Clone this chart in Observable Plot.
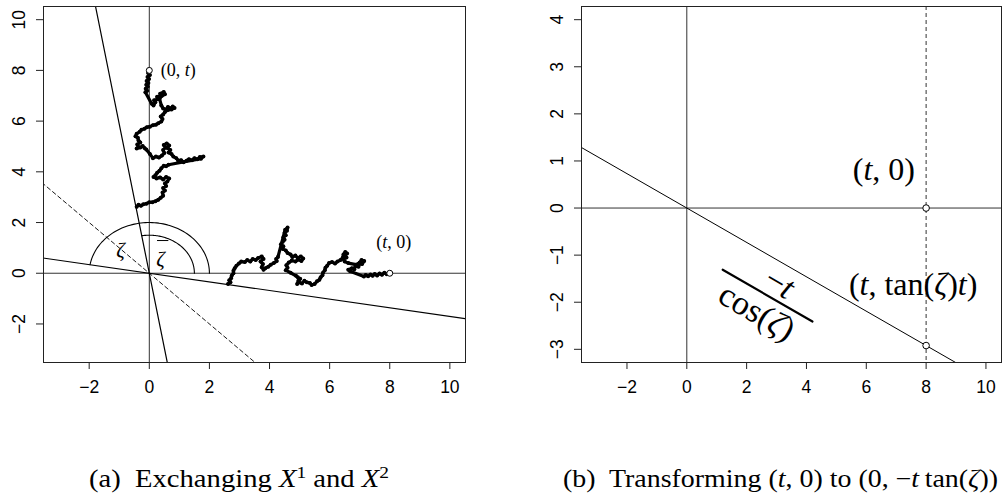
<!DOCTYPE html>
<html><head><meta charset="utf-8">
<script src="https://cdn.jsdelivr.net/npm/d3@7"></script>
<script src="https://cdn.jsdelivr.net/npm/@observablehq/plot@0.6"></script>
<style>
html,body{margin:0;padding:0;background:#fff;}
#wrap{position:relative;width:1003px;height:497px;overflow:hidden;background:#fff;}
.panel{position:absolute;top:0;}
.cap{position:absolute;font-family:"Liberation Serif","Times New Roman",serif;font-size:25px;line-height:25px;white-space:nowrap;transform-origin:0 0;color:#000;}
.cap sup{font-size:0.68em;line-height:0;vertical-align:0.55em;}
</style></head><body><div id="wrap"></div>
<script>
// ---------- data ----------
const xTicks = [-2, 0, 2, 4, 6, 8, 10];
const yTicksA = [-2, 0, 2, 4, 6, 8, 10];
const yTicksB = [-3, -2, -1, 0, 1, 2, 3, 4];
const xDomain = [-3.52, 10.52];
const yDomainA = [-3.52, 10.52];
const yDomainB = [-3.28, 4.28];
const tEnd = 8;                 // end time t
const slopeA = -0.17;           // rotated axis in panel (a)
const tanZeta = -0.365;         // tan(zeta) in panel (b)
const arcRadii = [2, 1.5];      // outer (zeta) and inner (zeta-bar) arcs

// Brownian path ending at (0, t); its mirror (coordinates exchanged) ends at (t, 0)
const pathA = [
  [0.00,8.00],[-0.04,7.90],[0.02,7.82],[-0.06,7.74],[-0.01,7.66],[-0.09,7.58],[-0.03,7.50],[-0.10,7.43],
  [-0.05,7.36],[-0.12,7.28],[-0.07,7.20],[-0.13,7.14],
  [0.08,6.68],[0.14,6.62],[0.20,6.74],[0.16,6.82],[0.28,6.86],[0.26,6.96],[0.38,6.98],[0.36,7.08],
  [0.48,7.15],[0.52,7.06],[0.42,7.00],[0.34,6.88],
  [0.40,6.62],[0.46,6.50],[0.56,6.46],[0.62,6.56],[0.70,6.50],[0.78,6.58],[0.84,6.52],[0.74,6.46],
  [0.62,6.44],[0.52,6.36],[0.46,6.26],[0.38,6.18],[0.44,6.08],[0.40,5.98],[0.30,5.92],[0.22,5.86],
  [0.12,5.84],[0.02,5.78],[-0.08,5.76],[-0.16,5.70],[-0.26,5.66],[-0.32,5.58],[-0.42,5.50],[-0.46,5.40],
  [-0.38,5.34],[-0.36,5.24],[-0.30,5.16],[-0.40,5.08],[-0.36,4.98],[-0.42,4.92],[-0.30,4.96],[-0.22,5.02],
  [-0.16,4.94],[-0.10,4.88],[0.02,4.70],[0.12,4.54],
  [0.22,4.60],[0.32,4.56],[0.42,4.64],[0.50,4.74],[0.46,4.86],[0.54,4.96],[0.48,5.06],[0.58,5.12],
  [0.66,5.04],[0.60,4.94],[0.70,4.86],[0.64,4.76],[0.74,4.70],[0.80,4.60],[0.90,4.54],[0.96,4.44],
  [1.06,4.46],[1.14,4.38],[1.24,4.44],[1.32,4.50],[1.42,4.46],[1.50,4.54],[1.60,4.50],[1.68,4.58],
  [1.80,4.60],[1.72,4.52],
  [0.64,4.28],[0.56,4.22],[0.48,4.24],[0.40,4.14],[0.34,4.04],[0.26,3.96],[0.20,3.86],[0.14,3.80],
  [0.24,3.74],[0.36,3.78],[0.46,3.70],[0.56,3.80],[0.66,3.74],[0.60,3.62],[0.52,3.54],[0.56,3.44],
  [0.46,3.36],[0.52,3.26],[0.44,3.18],[0.46,3.06],[0.38,2.98],[0.30,2.90],[0.20,2.84],[0.10,2.80],
  [0.00,2.80],[-0.10,2.74],[-0.20,2.72],[-0.28,2.66],[-0.36,2.70],[-0.42,2.62]
];

// text annotations (data coordinates); *...* = italic
const labelsA = [
  {x: 0.38, y: 7.78, text: "(0, *t*)"},
  {x: 7.55, y: 0.98, text: "(*t*, 0)"}
];
const zetaLabels = [
  {x: -0.955, y: 0.90, text: "*ζ*"},
  {x: 0.376, y: 0.57, text: "*ζ*"}
];
const zetaBar = [[0.27, 1.29], [0.62, 1.29]];
const labelsB = [
  {x: 5.55, y: 0.60, text: "(*t*, 0)"},
  {x: 5.42, y: -1.845, text: "(*t*, tan(*ζ*)*t*)"}
];
const fracBar = [[1.2, -1.31], [4.2, -2.41]];
const fracText = [
  {x: 3.10, y: -1.60, text: "−*t*"},
  {x: 2.34, y: -2.21, text: "cos(*ζ*)"}
];
const captions = [
  {left: 89, width: 300, html: "(a)&nbsp; Exchanging <i>X</i><sup>1</sup> and <i>X</i><sup>2</sup>"},
  {left: 563, width: 435, html: "(b)&nbsp; Transforming (<i>t</i>, 0) to (0, −<i>t</i>&#8201;tan(<i>ζ</i>))"}
];

// ---------- helpers ----------
const fmt = d3.format("d");
const serif = "Liberation Serif, Times New Roman, serif";
const sans = "Liberation Sans, Arial, Helvetica, sans-serif";
function italicize(svg) {
  svg.querySelectorAll("text").forEach(el => {
    const s = el.textContent;
    if (!s.includes("*")) return;
    el.textContent = "";
    s.split("*").forEach((part, i) => {
      if (!part) return;
      const ts = document.createElementNS("http://www.w3.org/2000/svg", "tspan");
      ts.textContent = part;
      if (i % 2 === 1) ts.setAttribute("font-style", "italic");
      el.appendChild(ts);
    });
  });
}
function arcPoints(r, a1) {
  return d3.range(0, 81).map(i => { const a = a1 * i / 80; return [r * Math.cos(a), r * Math.sin(a)]; });
}
const outerEnd = Math.PI + Math.atan(slopeA);
const innerEnd = Math.atan2(1, slopeA);
const shallowLine = [[-5, -5 * slopeA], [12, 12 * slopeA]];
const steepLine = [[slopeA * 12, 12], [slopeA * -5, -5]];
const diagLine = [[-5, 5], [12, -12]];
const lineB = [[-5, -5 * tanZeta], [12, 12 * tanZeta]];

const commonStyle = {fontFamily: sans, fontSize: "17.5px", background: "transparent", color: "black"};
const pathStyle = {stroke: "black", strokeWidth: 3.2, strokeLinejoin: "round", strokeLinecap: "round"};
const axisOpts = {tickSize: 7, tickFormat: fmt, stroke: "#222", label: null, fontFamily: sans, fontSize: 17.5};

// ---------- panel (a) ----------
const left = Plot.plot({
  width: 500, height: 400,
  marginLeft: 43, marginRight: 35, marginTop: 6, marginBottom: 38,
  x: {domain: xDomain, label: null}, y: {domain: yDomainA, label: null},
  style: commonStyle,
  marks: [
    Plot.ruleX([0], {stroke: "#333", strokeWidth: 1}),
    Plot.ruleY([0], {stroke: "#333", strokeWidth: 1}),
    Plot.line(shallowLine, {x: d => d[0], y: d => d[1], stroke: "black", strokeWidth: 1.2, clip: true}),
    Plot.line(steepLine, {x: d => d[0], y: d => d[1], stroke: "black", strokeWidth: 1.2, clip: true}),
    Plot.line(diagLine, {x: d => d[0], y: d => d[1], stroke: "black", strokeWidth: 0.9, strokeDasharray: "4,3", clip: true}),
    Plot.line(arcPoints(arcRadii[0], outerEnd), {x: d => d[0], y: d => d[1], stroke: "black", strokeWidth: 1.1}),
    Plot.line(arcPoints(arcRadii[1], innerEnd), {x: d => d[0], y: d => d[1], stroke: "black", strokeWidth: 1.1}),
    Plot.line(pathA, {x: d => d[0], y: d => d[1], ...pathStyle}),
    Plot.line(pathA, {x: d => d[1], y: d => d[0], ...pathStyle}),
    Plot.dot(pathA, {x: d => d[0], y: d => d[1], r: 2, fill: "black"}),
    Plot.dot(pathA, {x: d => d[1], y: d => d[0], r: 2, fill: "black"}),
    Plot.dot([[0, tEnd], [tEnd, 0]], {x: d => d[0], y: d => d[1], r: 3, stroke: "black", fill: "white", strokeWidth: 1}),
    Plot.text(labelsA, {x: "x", y: "y", text: "text", fontSize: 18, textAnchor: "start", lineAnchor: "bottom", fontFamily: serif}),
    Plot.text(zetaLabels, {x: "x", y: "y", text: "text", fontSize: 21, textAnchor: "middle", lineAnchor: "middle", fontFamily: serif}),
    Plot.line(zetaBar, {x: d => d[0], y: d => d[1], stroke: "black", strokeWidth: 1}),
    Plot.frame({stroke: "#222", strokeWidth: 1}),
    Plot.axisX({ticks: xTicks, tickPadding: 11, ...axisOpts}),
    Plot.axisY({ticks: yTicksA, tickPadding: 12, tickRotate: -90, ...axisOpts})
  ]
});

// ---------- panel (b) ----------
const right = Plot.plot({
  width: 503, height: 400,
  marginLeft: 81, marginRight: 2, marginTop: 6, marginBottom: 38,
  x: {domain: xDomain, label: null}, y: {domain: yDomainB, label: null},
  style: commonStyle,
  marks: [
    Plot.ruleX([0], {stroke: "#333", strokeWidth: 1}),
    Plot.ruleY([0], {stroke: "#333", strokeWidth: 1}),
    Plot.ruleX([tEnd], {stroke: "#333", strokeWidth: 1, strokeDasharray: "4,3"}),
    Plot.line(lineB, {x: d => d[0], y: d => d[1], stroke: "black", strokeWidth: 1, clip: true}),
    Plot.dot([[tEnd, 0], [tEnd, tEnd * tanZeta]], {x: d => d[0], y: d => d[1], r: 3.3, stroke: "black", fill: "white", strokeWidth: 1}),
    Plot.text(labelsB, {x: "x", y: "y", text: "text", fontSize: 32, textAnchor: "start", lineAnchor: "bottom", fontFamily: serif}),
    Plot.line(fracBar, {x: d => d[0], y: d => d[1], stroke: "black", strokeWidth: 2.2}),
    Plot.text(fracText, {x: "x", y: "y", text: "text", fontSize: 34, rotate: 30, textAnchor: "middle", lineAnchor: "middle", fontFamily: serif}),
    Plot.frame({stroke: "#222", strokeWidth: 1}),
    Plot.axisX({ticks: xTicks, tickPadding: 11, ...axisOpts}),
    Plot.axisY({ticks: yTicksB, tickPadding: 12, tickRotate: -90, ...axisOpts})
  ]
});

const wrap = document.getElementById("wrap");
[[left, 0], [right, 500]].forEach(([svg, x]) => {
  svg.classList.add("panel");
  svg.style.left = x + "px";
  svg.style.position = "absolute";
  svg.style.top = "0px";
  italicize(svg);
  wrap.appendChild(svg);
});

captions.forEach(c => {
  const d = document.createElement("div");
  d.className = "cap";
  d.innerHTML = c.html;
  d.style.left = c.left + "px";
  d.style.top = "466px";
  wrap.appendChild(d);
  const w = d.getBoundingClientRect().width;
  d.style.transform = `scaleX(${c.width / w})`;
});
</script></body></html>
